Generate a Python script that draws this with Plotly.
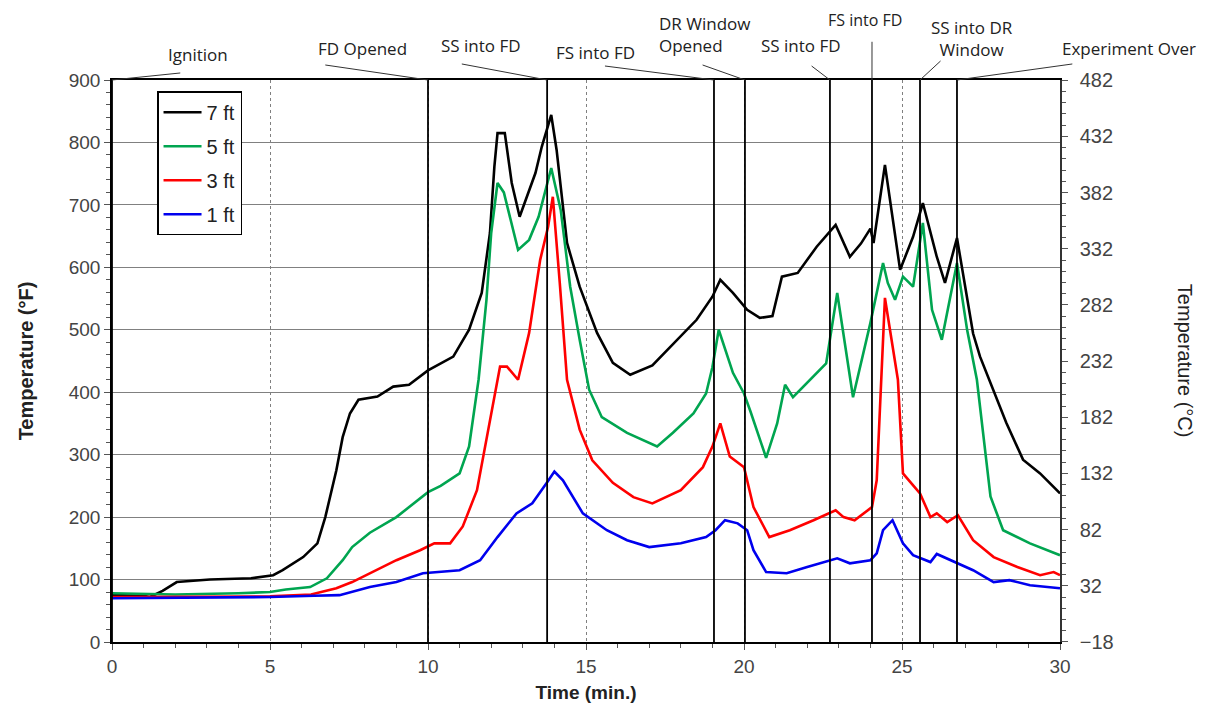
import plotly.graph_objects as go

# ---- data (time in minutes, temperature in °F) ----
t_7ft = [0, 1.0, 1.2, 1.6, 2.05, 3.1, 4.4, 5.1, 5.4, 6.05, 6.5, 6.75, 7.1, 7.3, 7.53, 7.8, 8.4, 8.9, 9.4, 9.75,
         10.0, 10.8, 11.3, 11.7, 11.96, 12.1, 12.2, 12.43, 12.65, 12.9, 13.1, 13.4, 13.6, 13.9, 14.07, 14.4, 14.8,
         15.35, 15.85, 16.4, 17.1, 17.65, 18.5, 19.0, 19.25, 19.65, 20.1, 20.5, 20.9, 21.2, 21.7, 22.3, 22.9,
         23.35, 23.7, 24.0, 24.1, 24.46, 24.7, 24.94, 25.35, 25.66, 26.1, 26.36, 26.74, 27.25, 27.47, 28.0,
         28.3, 28.83, 29.37, 30.0]
v_7ft = [75, 74, 72, 82, 96, 100, 102, 107, 115, 136, 158, 200, 275, 328, 366, 388, 393, 409, 412, 425,
         435, 457, 500, 559, 655, 761, 815, 815, 735, 681, 708, 751, 793, 844, 788, 639, 569,
         495, 447, 428, 443, 472, 516, 553, 580, 559, 532, 519, 522, 585, 591, 633, 668,
         617, 638, 662, 639, 764, 680, 596, 649, 703, 617, 575, 647, 494, 457, 388,
         351, 292, 270, 238]

t_5ft = [0, 2, 4, 5, 5.5, 6.0, 6.27, 6.8, 7.3, 7.6, 8.16, 9.0, 9.5, 10.0, 10.4, 11.0, 11.3, 11.6, 11.85, 12.0,
         12.2, 12.4, 12.85, 13.2, 13.5, 13.9, 14.2, 14.5, 14.8, 15.1, 15.5, 16.3, 17.25, 17.75, 18.4, 18.8,
         19.0, 19.2, 19.65, 20.0, 20.2, 20.7, 21.05, 21.3, 21.55, 22.0, 22.6, 22.95, 23.45, 24.0, 24.4, 24.55,
         24.78, 25.03, 25.35, 25.66, 25.95, 26.26, 26.74, 27.06, 27.37, 27.8, 28.2, 29.05, 30.0]
v_5ft = [78, 76, 78, 80, 84, 86, 88, 102, 131, 152, 175, 200, 220, 240, 250, 270, 313, 420, 548, 655,
         735, 720, 628, 644, 681, 759, 692, 569, 484, 404, 360, 335, 313, 335, 366, 398,
         440, 500, 431, 398, 370, 295, 350, 412, 392, 415, 446, 559, 392, 511, 607, 575,
         548, 585, 569, 671, 532, 484, 607, 500, 420, 233, 179, 158, 139]

t_3ft = [0, 3, 5, 6.3, 7.1, 7.6, 8.16, 9.0, 9.75, 10.2, 10.7, 11.1, 11.55, 11.96, 12.2, 12.28, 12.5, 12.85,
         13.2, 13.55, 13.8, 13.95, 14.17, 14.4, 14.8, 15.2, 15.85, 16.5, 17.1, 18.0, 18.7, 19.0, 19.25, 19.55,
         20.0, 20.3, 20.8, 21.45, 22.2, 22.9, 23.15, 23.5, 24.05, 24.2, 24.46, 24.87, 25.03, 25.57, 25.9,
         26.1, 26.43, 26.77, 27.25, 27.9, 28.65, 29.37, 29.8, 30.0]
v_3ft = [72, 72, 73, 76, 86, 96, 110, 131, 147, 158, 158, 185, 243, 355, 420, 441, 441, 420,
         495, 612, 665, 713, 575, 420, 340, 291, 255, 232, 222, 243, 280, 313, 350, 297,
         280, 216, 168, 179, 195, 211, 200, 195, 216, 259, 551, 420, 270, 238, 200,
         206, 192, 203, 163, 136, 120, 107, 112, 107]

t_1ft = [0, 3, 5, 6.4, 7.2, 8.16, 9.0, 9.84, 10.4, 11.0, 11.65, 12.2, 12.8, 13.3, 13.76, 14.0, 14.27, 14.9,
         15.66, 16.3, 17.0, 18.0, 18.8, 19.1, 19.4, 19.8, 20.1, 20.3, 20.7, 21.35, 22.0, 22.95, 23.35, 24.0,
         24.2, 24.4, 24.7, 25.03, 25.35, 25.9, 26.1, 26.74, 27.25, 27.9, 28.4, 29.05, 30.0]
v_1ft = [70, 71, 72, 74, 75, 88, 96, 110, 112, 115, 131, 168, 206, 222, 255, 273, 259, 206,
         179, 163, 152, 158, 168, 179, 195, 190, 179, 147, 112, 110, 120, 134, 126, 131,
         142, 179, 195, 158, 139, 128, 141, 126, 115, 96, 99, 91, 86]

series_names = ["7 ft", "5 ft", "3 ft", "1 ft"]
series_colors = ["#000000", "#00a550", "#ff0000", "#0000ee"]

# events (minutes) and their labels
event_times = [0, 10, 13.77, 19.05, 20.03, 22.72, 24.05, 25.57, 26.74]
event_labels = ["Ignition", "FD Opened", "SS into FD", "FS into FD", "DR Window<br>Opened",
                "SS into FD", "FS into FD", "SS into DR<br>Window", "Experiment Over"]

# axis ticks
f_ticks = [0, 100, 200, 300, 400, 500, 600, 700, 800, 900]
c_ticks = [-18, 32, 82, 132, 182, 232, 282, 332, 382, 432, 482]

T_MAX = 30.0
F_RANGE = [0, 900]
C_RANGE = [(F_RANGE[0] - 32) / 1.8 - 0.25, (F_RANGE[1] - 32) / 1.8]

fig = go.Figure()
for i, (t, v, name, col) in enumerate(zip([t_7ft, t_5ft, t_3ft, t_1ft], [v_7ft, v_5ft, v_3ft, v_1ft],
                                          series_names, series_colors)):
    fig.add_trace(go.Scatter(x=t, y=v, mode="lines", name=name, legendgroup=f"g{i}",
                             line=dict(color=col, width=2.6)))

# invisible trace to attach the Celsius axis
fig.add_trace(go.Scatter(x=[0, 30], y=C_RANGE, yaxis="y2", mode="lines",
                         line=dict(width=0), showlegend=False, hoverinfo="skip"))

shapes = []
for et in event_times:
    shapes.append(dict(type="line", xref="x", yref="paper", x0=et, x1=et, y0=0, y1=1,
                       line=dict(color="black", width=1.8), layer="above"))

# label placement (paper coords): text x, text y, leader-tail x, leader-tail y, alignment
label_pos = [
    (0.0907, 1.0445, 0.072, 1.0125, "center"),
    (0.264, 1.0569, 0.225, 1.0267, "center"),
    (0.389, 1.0605, 0.369, 1.0285, "center"),
    (0.510, 1.0498, 0.520, 1.0249, "center"),
    (0.576, 1.081, 0.623, 1.0267, "left"),
    (0.727, 1.0605, 0.738, 1.0249, "center"),
    (0.794, 1.1065, 0.8017, 1.068, "center"),
    (0.907, 1.0747, 0.874, 1.0338, "center"),
    (1.073, 1.0569, 1.013, 1.0285, "center"),
]
annotations = []
for i, (et, lab, (tx, ty, lx, ly, al)) in enumerate(zip(event_times, event_labels, label_pos)):
    shapes.append(dict(type="line", xref="paper", yref="paper", x0=et / T_MAX, y0=1, x1=lx, y1=ly,
                       line=dict(color="#333333", width=1)))
    annotations.append(dict(xref="paper", yref="paper", x=tx, y=ty, text=lab, showarrow=False,
                            xanchor="left" if al == "left" else "center", align=al, yanchor="middle",
                            borderpad=0,
                            font=dict(family="Open Sans", size=16 if i == 6 else 17, color="#222222")))

annotations.append(dict(xref="paper", yref="paper", x=1.132, y=0.5, text="Temperature (°C)",
                        textangle=90, showarrow=False, xanchor="center", yanchor="middle",
                        font=dict(family="Liberation Sans", size=20, color="#222222")))

fig.update_layout(
    width=1209, height=707,
    margin=dict(l=104, r=157, t=72, b=73),
    paper_bgcolor="white", plot_bgcolor="white",
    font=dict(family="Liberation Sans", color="#333333"),
    xaxis=dict(range=[0, 30], dtick=5, tick0=0, showgrid=True, gridcolor="#808080",
               griddash="dot", gridwidth=1, zeroline=False,
               showline=True, linecolor="black", linewidth=1.5, mirror=True,
               ticks="outside", ticklen=6, tickcolor="#555555",
               minor=dict(dtick=1, ticks="outside", ticklen=4, tickcolor="#555555", showgrid=False),
               tickfont=dict(size=19, color="#444444"),
               title=dict(text="<b>Time (min.)</b>", font=dict(size=19, color="#222222"), standoff=10)),
    yaxis=dict(range=F_RANGE, tickvals=f_ticks, showgrid=True, gridcolor="#808080", gridwidth=1,
               zeroline=False, showline=True, linecolor="black", linewidth=1.5,
               ticks="outside", ticklen=6, tickcolor="#555555",
               minor=dict(dtick=20, ticks="outside", ticklen=4, tickcolor="#555555", showgrid=False),
               tickfont=dict(size=19, color="#444444"),
               title=dict(text="<b>Temperature (°F)</b>", font=dict(size=20, color="#222222"), standoff=30)),
    yaxis2=dict(range=C_RANGE, overlaying="y", side="right", tickvals=c_ticks,
                showgrid=False, zeroline=False, showline=True, linecolor="#333333", linewidth=1.5,
                ticks="outside", ticklen=6, tickcolor="#555555", ticklabelstandoff=8,
                minor=dict(dtick=10, tick0=-18, ticks="outside", ticklen=4, tickcolor="#555555",
                           showgrid=False),
                tickfont=dict(size=20, color="#444444")),
    legend=dict(x=0.0475, y=0.98, xanchor="left", yanchor="top", bgcolor="white",
                bordercolor="black", borderwidth=1.5, font=dict(size=20, color="#222222"),
                traceorder="grouped", tracegroupgap=5, itemwidth=38),
    shapes=shapes,
    annotations=annotations,
    showlegend=True,
)

fig.write_html("out.html")
